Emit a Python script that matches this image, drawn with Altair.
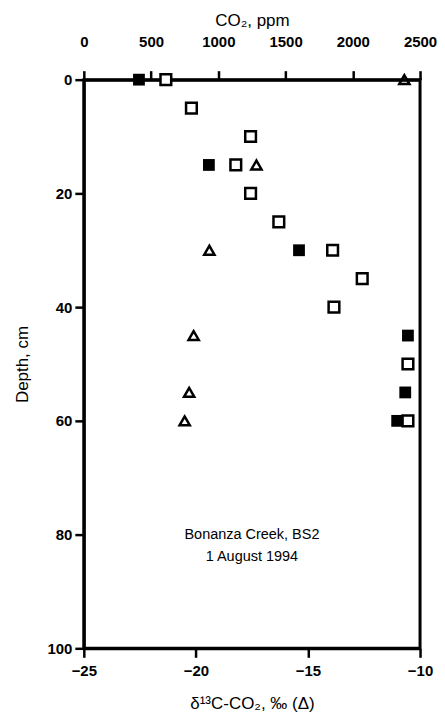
import altair as alt
import pandas as pd

# Open squares: CO2 (ppm, top axis)
depth_open = [0, 5, 10, 15, 20, 25, 30, 35, 40, 50, 60]
co2_open = [610, 800, 1240, 1130, 1240, 1450, 1850, 2070, 1860, 2410, 2410]

# Filled squares: CO2 (ppm, top axis)
depth_filled = [0, 15, 30, 45, 55, 60]
co2_filled = [410, 930, 1600, 2410, 2390, 2330]

# Triangles: delta13C-CO2 (bottom axis)
depth_tri = [0, 15, 30, 45, 55, 60]
d13c_tri = [-10.7, -17.3, -19.4, -20.1, -20.3, -20.5]

annot_lines = ["Bonanza Creek, BS2", "1 August 1994"]
annot_depth = [80, 84]
annot_x = [-17.5, -17.5]

FONT = "Liberation Sans"

df_open = pd.DataFrame({"depth": depth_open, "co2": co2_open})
df_filled = pd.DataFrame({"depth": depth_filled, "co2": co2_filled})
df_tri = pd.DataFrame({"depth": depth_tri, "d13c": d13c_tri})
df_txt = pd.DataFrame({"depth": annot_depth, "x": annot_x, "label": annot_lines})

common = dict(
    labelFont=FONT, titleFont=FONT, labelFontSize=15, titleFontSize=17,
    labelFontWeight="bold", titleFontWeight="normal",
    labelColor="black", titleColor="black",
    domainColor="black", domainWidth=3, tickColor="black", tickWidth=2.5,
    grid=False, format="d", labelFlush=False,
)

yenc = alt.Y("depth:Q",
             scale=alt.Scale(domain=[0, 100], reverse=True, nice=False, zero=False),
             axis=alt.Axis(title="Depth, cm", values=[0, 20, 40, 60, 80, 100],
                           titlePadding=15, tickSize=9, labelPadding=3, **common))

d13c_scale = alt.Scale(domain=[-25, -10], nice=False, zero=False)
co2_scale = alt.Scale(domain=[0, 2500], nice=False, zero=False)

tri = alt.Chart(df_tri).mark_point(
    shape="triangle-up", filled=False, color="black", strokeWidth=2.5, size=105, opacity=1
).encode(
    x=alt.X("d13c:Q", scale=d13c_scale,
            axis=alt.Axis(orient="bottom", title="δ¹³C-CO₂, ‰ (Δ)", values=[-25, -20, -15, -10],
                          tickSize=9, labelPadding=6, titlePadding=17, **common)),
    y=yenc,
)

filled = alt.Chart(df_filled).mark_square(
    color="black", size=140, opacity=1
).encode(
    x=alt.X("co2:Q", scale=co2_scale, axis=None),
    y=alt.Y("depth:Q"),
)

opened = alt.Chart(df_open).mark_square(
    fill="white", stroke="black", strokeWidth=2.5, size=115, opacity=1, fillOpacity=1
).encode(
    x=alt.X("co2:Q", scale=co2_scale,
            axis=alt.Axis(orient="top", title="CO₂, ppm", values=[0, 500, 1000, 1500, 2000, 2500],
                          tickSize=9, labelPadding=21, titlePadding=5, **common)),
    y=alt.Y("depth:Q"),
)

txt = alt.Chart(df_txt).mark_text(
    font=FONT, fontSize=14.5, color="black", align="center", baseline="middle"
).encode(
    x=alt.X("x:Q", scale=d13c_scale, axis=None),
    y=alt.Y("depth:Q"),
    text="label:N",
)

chart = alt.layer(tri, filled, opened, txt).resolve_scale(
    x="independent"
).properties(
    width=337, height=570, background="white",
    padding={"left": 5, "top": 3, "right": 0, "bottom": 0},
).configure_view(
    stroke="black", strokeWidth=3
)

chart.save("out.html", embed_options={"renderer": "svg", "actions": False})
